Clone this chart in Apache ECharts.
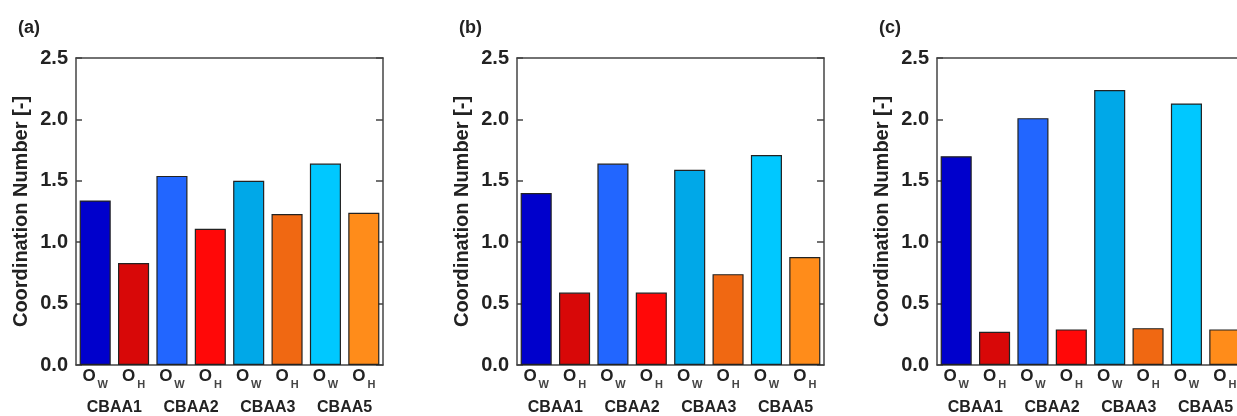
<!DOCTYPE html>
<html>
<head>
<meta charset="utf-8">
<script src="https://cdn.jsdelivr.net/npm/echarts@6/dist/echarts.min.js"></script>
<style>
  html, body { margin: 0; padding: 0; background: #fff; overflow: hidden; }
  /* the third panel runs past the right edge of the figure, as in the original */
  #chart { width: 1250px; height: 416px; }
</style>
</head>
<body>
<div id="chart"></div>
<script>
// data
var subs = ['W', 'H', 'W', 'H', 'W', 'H', 'W', 'H'];
var groups = ['CBAA1', 'CBAA2', 'CBAA3', 'CBAA5'];
var panelNames = ['(a)', '(b)', '(c)'];
var valuesA = [1.34, 0.83, 1.54, 1.11, 1.50, 1.23, 1.64, 1.24];
var valuesB = [1.40, 0.59, 1.64, 0.59, 1.59, 0.74, 1.71, 0.88];
var valuesC = [1.70, 0.27, 2.01, 0.29, 2.24, 0.30, 2.13, 0.29];
var yMin = 0, yMax = 2.5, yStep = 0.5;

// colours of each bar (O_W blues, O_H reds/oranges)
var barColors = ['#0000cc', '#d80808', '#2266ff', '#ff0808', '#00a8e8', '#f06812', '#00c8ff', '#ff8c1a'];

var font = 'Liberation Sans, Arial, sans-serif';
var lineColor = '#444';
var panels = [valuesA, valuesB, valuesC];
var lefts = [76, 517, 937];

var option = {
    animation: false,
    backgroundColor: '#fff',
    title: [],
    grid: [],
    xAxis: [],
    yAxis: [],
    series: []
};

for (var p = 0; p < panels.length; p++) {
    option.title.push({
        text: panelNames[p],
        left: lefts[p] - 63,
        top: 14,
        textStyle: { fontFamily: font, fontSize: 18, fontWeight: 'bold', color: '#222' }
    });
    option.grid.push({ left: lefts[p], top: 58, width: 307, height: 309 });

    // bottom axis with O_W / O_H labels
    option.xAxis.push({
        type: 'category', gridIndex: p, position: 'bottom', data: subs,
        axisLine: { lineStyle: { color: lineColor, width: 1.5 } },
        axisTick: { inside: true, length: 4, interval: 0, lineStyle: { color: lineColor, width: 1.5 } },
        axisLabel: {
            interval: 0,
            margin: 3,
            formatter: function (v) { return '{o|O}{s|' + v + '}'; },
            rich: {
                o: { fontFamily: font, fontSize: 17, fontWeight: 'bold', color: '#222', verticalAlign: 'top' },
                s: { fontFamily: font, fontSize: 11, fontWeight: 'bold', color: '#444', padding: [11, 0, 0, 2], verticalAlign: 'top' }
            }
        }
    });
    // second row: sample names
    option.xAxis.push({
        type: 'category', gridIndex: p, position: 'bottom', data: groups,
        axisLine: { show: false }, axisTick: { show: false },
        axisLabel: { interval: 0, margin: 35, fontFamily: font, fontSize: 16, fontWeight: 'bold', color: '#222' }
    });
    // top frame with ticks
    option.xAxis.push({
        type: 'category', gridIndex: p, position: 'top', data: subs,
        axisLine: { lineStyle: { color: lineColor, width: 1.5 } },
        axisTick: { inside: true, length: 7, interval: 0, lineStyle: { color: lineColor, width: 1.5 } },
        axisLabel: { show: false }
    });

    option.yAxis.push({
        type: 'value', gridIndex: p, position: 'left', min: yMin, max: yMax, interval: yStep,
        name: 'Coordination Number [-]', nameLocation: 'middle', nameGap: 45,
        nameTextStyle: { fontFamily: font, fontSize: 20, fontWeight: 'bold', color: '#222' },
        axisLine: { show: true, lineStyle: { color: lineColor, width: 1.5 } },
        axisTick: { show: true, inside: true, length: 6, lineStyle: { color: lineColor, width: 1.5 } },
        splitLine: { show: false },
        axisLabel: {
            margin: 8, fontFamily: font, fontSize: 20, fontWeight: 'bold', color: '#222',
            formatter: function (v) { return v.toFixed(1); }
        }
    });
    option.yAxis.push({
        type: 'value', gridIndex: p, position: 'right', min: yMin, max: yMax, interval: yStep,
        axisLine: { show: true, lineStyle: { color: lineColor, width: 1.5 } },
        axisTick: { show: true, inside: true, length: 7, lineStyle: { color: lineColor, width: 1.5 } },
        splitLine: { show: false },
        axisLabel: { show: false }
    });

    option.series.push({
        type: 'bar',
        xAxisIndex: p * 3,
        yAxisIndex: p * 2,
        barCategoryGap: '19%',
        data: panels[p].map(function (v, i) {
            return { value: v, itemStyle: { color: barColors[i], borderColor: '#222', borderWidth: 1.2 } };
        })
    });
}

var myChart = echarts.init(document.getElementById('chart'));
myChart.setOption(option);
</script>
</body>
</html>
